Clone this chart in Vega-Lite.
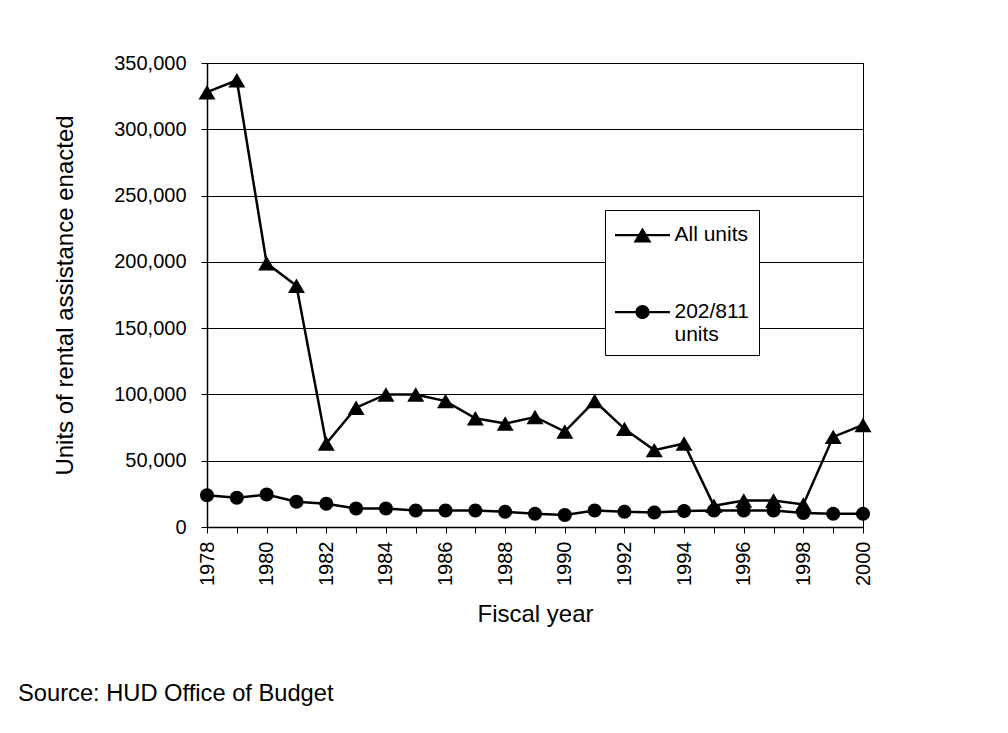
{
  "$schema": "https://vega.github.io/schema/vega-lite/v6.json",
  "width": 656,
  "height": 464,
  "autosize": {"type": "none"},
  "padding": {"left": 207, "top": 63, "right": 145, "bottom": 206},
  "background": "white",
  "title": {
    "text": "Source: HUD Office of Budget",
    "orient": "bottom",
    "anchor": "start",
    "frame": "group",
    "dx": -189,
    "offset": 56,
    "fontSize": 23.7,
    "fontWeight": "normal",
    "font": "Liberation Sans",
    "color": "black"
  },
  "data": {
    "values": [
      {"year": 1978, "series": "All units", "units": 328000},
      {"year": 1979, "series": "All units", "units": 337000},
      {"year": 1980, "series": "All units", "units": 199000},
      {"year": 1981, "series": "All units", "units": 182000},
      {"year": 1982, "series": "All units", "units": 63000},
      {"year": 1983, "series": "All units", "units": 90000},
      {"year": 1984, "series": "All units", "units": 100000},
      {"year": 1985, "series": "All units", "units": 100000},
      {"year": 1986, "series": "All units", "units": 95000},
      {"year": 1987, "series": "All units", "units": 82000},
      {"year": 1988, "series": "All units", "units": 78000},
      {"year": 1989, "series": "All units", "units": 83000},
      {"year": 1990, "series": "All units", "units": 72000},
      {"year": 1991, "series": "All units", "units": 95000},
      {"year": 1992, "series": "All units", "units": 74000},
      {"year": 1993, "series": "All units", "units": 58000},
      {"year": 1994, "series": "All units", "units": 63000},
      {"year": 1995, "series": "All units", "units": 16000},
      {"year": 1996, "series": "All units", "units": 20000},
      {"year": 1997, "series": "All units", "units": 20000},
      {"year": 1998, "series": "All units", "units": 17000},
      {"year": 1999, "series": "All units", "units": 68000},
      {"year": 2000, "series": "All units", "units": 77000},
      {"year": 1978, "series": "202/811 units", "units": 24000},
      {"year": 1979, "series": "202/811 units", "units": 22000},
      {"year": 1980, "series": "202/811 units", "units": 24500},
      {"year": 1981, "series": "202/811 units", "units": 19000},
      {"year": 1982, "series": "202/811 units", "units": 17500},
      {"year": 1983, "series": "202/811 units", "units": 14000},
      {"year": 1984, "series": "202/811 units", "units": 14000},
      {"year": 1985, "series": "202/811 units", "units": 12500},
      {"year": 1986, "series": "202/811 units", "units": 12500},
      {"year": 1987, "series": "202/811 units", "units": 12500},
      {"year": 1988, "series": "202/811 units", "units": 11500},
      {"year": 1989, "series": "202/811 units", "units": 10000},
      {"year": 1990, "series": "202/811 units", "units": 9000},
      {"year": 1991, "series": "202/811 units", "units": 12500},
      {"year": 1992, "series": "202/811 units", "units": 11500},
      {"year": 1993, "series": "202/811 units", "units": 11000},
      {"year": 1994, "series": "202/811 units", "units": 12000},
      {"year": 1995, "series": "202/811 units", "units": 12500},
      {"year": 1996, "series": "202/811 units", "units": 12500},
      {"year": 1997, "series": "202/811 units", "units": 12500},
      {"year": 1998, "series": "202/811 units", "units": 10500},
      {"year": 1999, "series": "202/811 units", "units": 10000},
      {"year": 2000, "series": "202/811 units", "units": 10000}
    ]
  },
  "encoding": {
    "x": {
      "field": "year",
      "type": "quantitative",
      "scale": {"domain": [1978, 2000], "nice": false, "zero": false},
      "axis": {
        "title": "Fiscal year",
        "values": [1978,1979,1980,1981,1982,1983,1984,1985,1986,1987,1988,1989,1990,1991,1992,1993,1994,1995,1996,1997,1998,1999,2000],
        "format": "d",
        "labelExpr": "datum.value % 2 === 0 ? datum.label : ''",
        "labelAngle": -90,
        "labelAlign": "right",
        "labelBaseline": "middle",
        "labelPadding": 8,
        "labelOverlap": false,
        "labelFlush": false,
        "grid": false,
        "tickSize": 6,
        "titlePadding": 17
      }
    },
    "y": {
      "field": "units",
      "type": "quantitative",
      "scale": {"domain": [0, 350000], "nice": false},
      "axis": {
        "title": "Units of rental assistance enacted",
        "values": [0, 50000, 100000, 150000, 200000, 250000, 300000, 350000],
        "format": ",d",
        "grid": true,
        "tickSize": 6,
        "labelPadding": 15,
        "titlePadding": 36
      }
    }
  },
  "layer": [
    {
      "mark": {"type": "line", "color": "black", "strokeWidth": 2.5},
      "encoding": {"detail": {"field": "series"}}
    },
    {
      "mark": {"type": "point", "filled": true, "color": "black", "opacity": 1, "size": 289, "strokeWidth": 0},
      "encoding": {
        "shape": {
          "field": "series",
          "type": "nominal",
          "scale": {
            "domain": ["All units", "202/811 units"],
            "range": ["M0,-0.85L1,0.85L-1,0.85Z", "M-0.82,0A0.82,0.82,0,1,0,0.82,0A0.82,0.82,0,1,0,-0.82,0Z"]
          },
          "legend": null
        }
      }
    },
    {
      "mark": {"type": "point", "filled": true, "color": "black", "opacity": 0, "size": 289, "strokeWidth": 0},
      "encoding": {
        "shape": {
          "field": "series",
          "type": "nominal",
          "scale": {
            "domain": ["All units", "202/811 units"],
            "range": [
              "M-1.833,-0.075H1.833V0.075H-1.833ZM0,-0.5L0.6,0.5L-0.6,0.5Z",
              "M-1.833,-0.075H1.833V0.075H-1.833ZM-0.47,0A0.47,0.47,0,1,1,0.47,0A0.47,0.47,0,1,1,-0.47,0Z"
            ]
          },
          "legend": {
            "orient": "none",
            "legendX": 398,
            "legendY": 147,
            "title": null,
            "padding": 10,
            "strokeColor": "black",
            "fillColor": "white",
            "symbolSize": 900,
            "symbolStrokeWidth": 0,
            "symbolOpacity": 1,
            "symbolFillColor": "black",
            "symbolOffset": 12.5,
            "labelOffset": 17,
            "rowPadding": 52,
            "labelFontSize": 21,
            "labelColor": "black",
            "labelBaseline": "middle",
            "labelExpr": "datum.label == '202/811 units' ? ['202/811', 'units'] : datum.label"
          }
        }
      }
    }
  ],
  "resolve": {"scale": {"shape": "independent"}},
  "config": {
    "font": "Liberation Sans",
    "view": {"stroke": "black", "strokeWidth": 1},
    "axis": {
      "domainColor": "black",
      "domainWidth": 1.5,
      "tickColor": "black",
      "tickWidth": 1,
      "gridColor": "black",
      "gridWidth": 1,
      "gridOpacity": 1,
      "labelColor": "black",
      "labelFontSize": 20,
      "labelFont": "Liberation Sans",
      "titleColor": "black",
      "titleFontSize": 24,
      "titleFontWeight": "normal",
      "titleFont": "Liberation Sans"
    }
  }
}
